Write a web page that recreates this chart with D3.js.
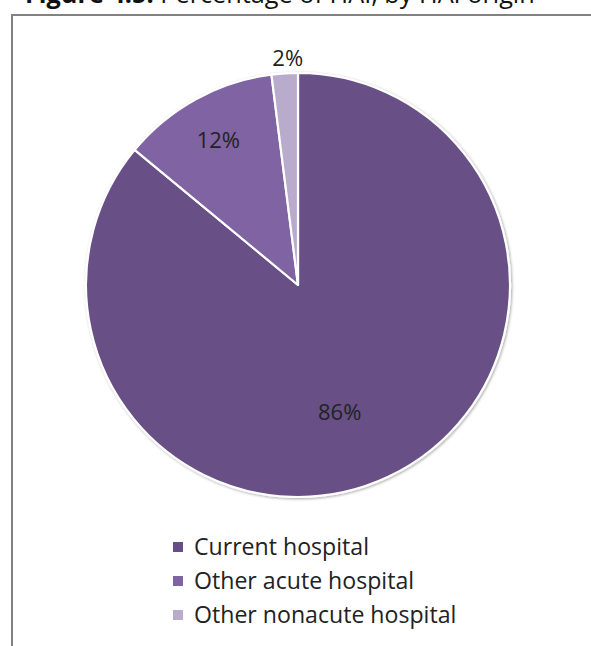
<!DOCTYPE html>
<html><head><meta charset="utf-8">
<script src="https://cdn.jsdelivr.net/npm/d3@7"></script>
<style>body{margin:0;background:#fff}svg{display:block}</style>
</head><body>
<script>
const categories = ["Current hospital", "Other acute hospital", "Other nonacute hospital"];
const values = [86, 12, 2];
const labels = ["86%", "12%", "2%"];
const colors = ["#674f86", "#7f64a2", "#b8abcc"];
const titleBold = "Figure 4.5:";
const titleRest = " Percentage of HAI, by HAI origin";

const W = 591, H = 646;
const svg = d3.select("body").append("svg").attr("width", W).attr("height", H);
const font = "'Open Sans', sans-serif";

// fit font size so a text reaches a target width
function fit(sel, target) {
  const w = sel.node().getComputedTextLength();
  const fs = parseFloat(sel.attr("font-size"));
  sel.attr("font-size", fs * target / w);
}

// title (cut off at top, as in the source)
const t = svg.append("text").attr("x", 25).attr("y", 3)
  .attr("font-family", font).attr("font-size", 20).attr("fill", "#111");
t.append("tspan").attr("font-weight", "bold").text(titleBold);
t.append("tspan").text(titleRest);
fit(t, 510);

// frame
svg.append("path").attr("d", "M12,646 V15 H591").attr("fill", "none").attr("stroke", "#828282").attr("stroke-width", 2);

const cx = 298, cy = 285, r = 212;
const g = svg.append("g").attr("transform", `translate(${cx},${cy})`);
const defs = svg.append("defs");
const f = defs.append("filter").attr("id", "sh").attr("x", "-10%").attr("y", "-10%").attr("width", "120%").attr("height", "120%");
f.append("feGaussianBlur").attr("in", "SourceAlpha").attr("stdDeviation", 1.5);
f.append("feOffset").attr("dx", 0.5).attr("dy", 1).attr("result", "b");
f.append("feComponentTransfer").append("feFuncA").attr("type", "linear").attr("slope", 0.35);
const m = f.append("feMerge"); m.append("feMergeNode"); m.append("feMergeNode").attr("in", "SourceGraphic");

const pie = d3.pie().sort(null).value(d => d)(values);
const arc = d3.arc().innerRadius(0).outerRadius(r);
g.append("g").attr("filter", "url(#sh)").selectAll("path").data(pie).join("path")
  .attr("d", arc).attr("fill", (d, i) => colors[i])
  .attr("stroke", "#fff").attr("stroke-width", 2.2).attr("stroke-linejoin", "round");

// label placement: radius fraction and angular nudge (degrees)
const labelRadius = [0.63, 0.78, 1.07];
const labelNudge = [7, 0, 1];
g.selectAll("text.lbl").data(pie).join("text").attr("class", "lbl")
  .attr("transform", (d, i) => {
    const a = (d.startAngle + d.endAngle) / 2 + labelNudge[i] * Math.PI / 180;
    const rr = r * labelRadius[i];
    return `translate(${rr * Math.sin(a)},${-rr * Math.cos(a)})`;
  })
  .attr("text-anchor", "middle").attr("dy", "0.36em")
  .attr("font-family", font).attr("font-size", 22).attr("fill", "#222")
  .text((d, i) => labels[i]);

// legend
const lg = svg.append("g").attr("transform", "translate(173,547)");
const row = lg.selectAll("g").data(categories).join("g").attr("transform", (d, i) => `translate(0,${i * 34})`);
row.append("rect").attr("x", 0).attr("y", -5).attr("width", 10).attr("height", 10).attr("fill", (d, i) => colors[i]);
const lt = row.append("text").attr("x", 21).attr("y", 0).attr("dy", "0.36em")
  .attr("font-family", font).attr("font-size", 19).attr("fill", "#222").text(d => d);
fit(d3.select(lt.nodes()[0]), 175);
lt.attr("font-size", d3.select(lt.nodes()[0]).attr("font-size"));
</script>
</body></html>
